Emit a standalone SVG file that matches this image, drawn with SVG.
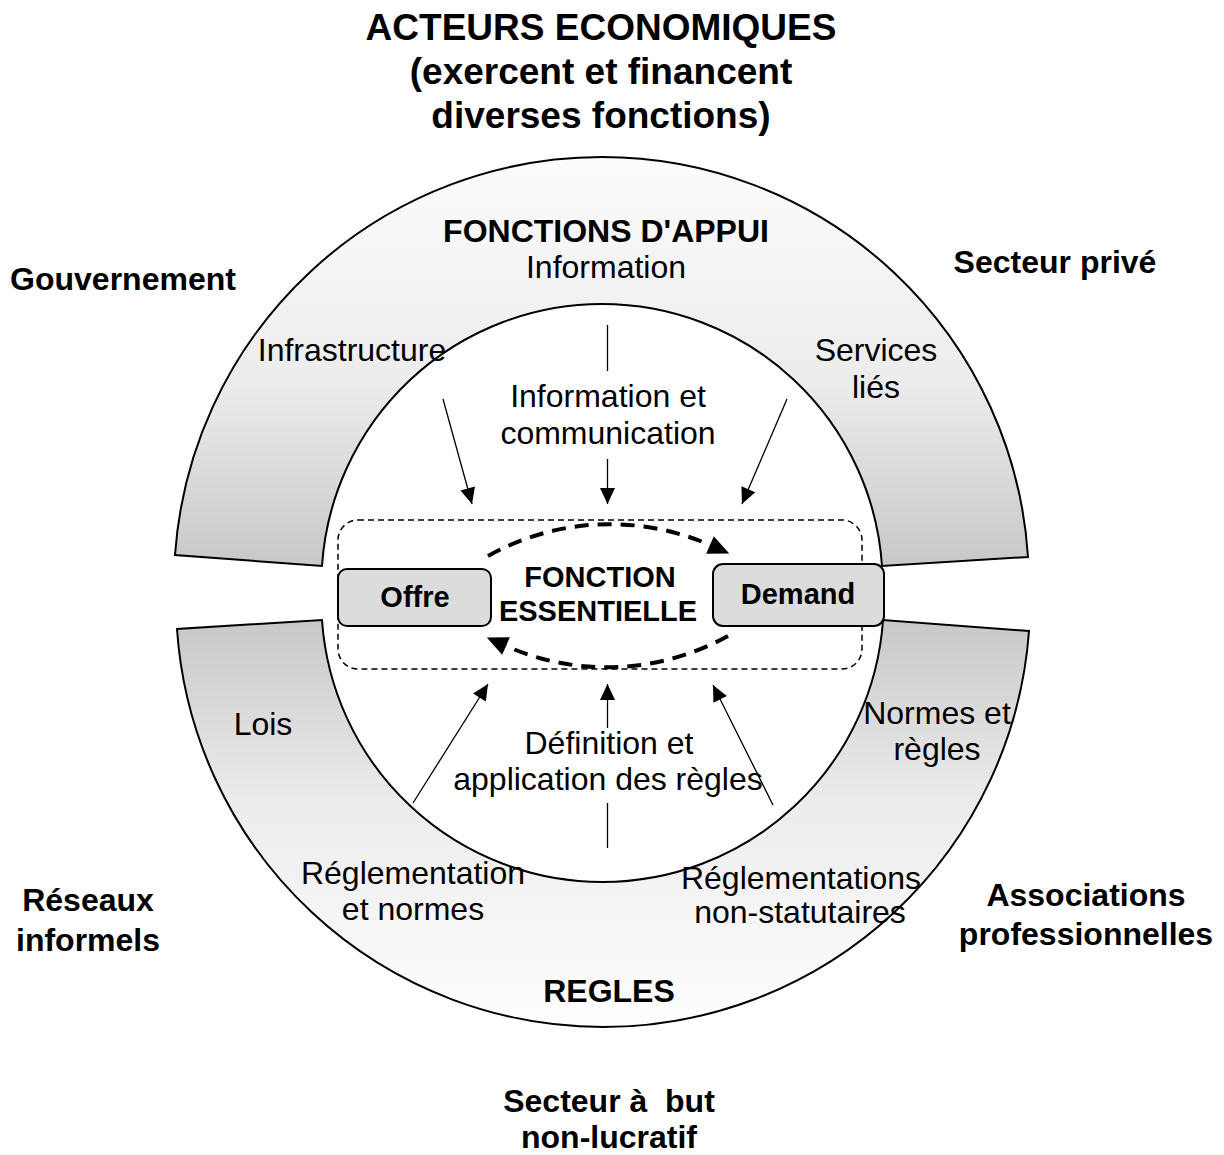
<svg xmlns="http://www.w3.org/2000/svg" width="1224" height="1155" viewBox="0 0 1224 1155">
<style>
text{font-family:"Liberation Sans",Arial,sans-serif;fill:#000;text-anchor:middle}
.b{font-weight:bold;font-size:32px}
.r{font-size:32px}
.t{font-weight:bold;font-size:37px}
.box{font-weight:bold;font-size:29px}
.arch{stroke:#000;stroke-width:2}
.bx{fill:#dcdcdc;stroke:#000;stroke-width:2}
.ln{stroke:#000;stroke-width:1.3;fill:none}
.dl{stroke:#000;stroke-width:4;fill:none;stroke-dasharray:14 9}
</style>
<defs>
<linearGradient id="gTop" x1="0" y1="0" x2="0" y2="1">
<stop offset="0" stop-color="#fcfcfc"/>
<stop offset="0.55" stop-color="#ececec"/>
<stop offset="1" stop-color="#c8c8c8"/>
</linearGradient>
<linearGradient id="gBot" x1="0" y1="0" x2="0" y2="1">
<stop offset="0" stop-color="#c8c8c8"/>
<stop offset="0.45" stop-color="#ececec"/>
<stop offset="1" stop-color="#fefefe"/>
</linearGradient>
<marker id="ah" markerUnits="userSpaceOnUse" markerWidth="16" markerHeight="15" refX="16" refY="7.5" orient="auto" overflow="visible">
<path d="M0,0 L16,7.5 L0,15 Z" fill="#000"/>
</marker>
<marker id="ahT" markerUnits="userSpaceOnUse" markerWidth="21" markerHeight="19" refX="0" refY="9.5" orient="auto" overflow="visible">
<path d="M0,0 L21,9.5 L0,19 Z" fill="#000"/>
</marker>
</defs>
<rect width="1224" height="1155" fill="#fff"/>

<g id="titre">
<text class="t" x="601" y="40">ACTEURS ECONOMIQUES</text>
<text class="t" x="601" y="84">(exercent et financent</text>
<text class="t" x="601" y="128">diverses fonctions)</text>
</g>

<g id="fonctions-appui">
<path class="arch" fill="url(#gTop)" d="M175,555 A428,428 0 0 1 602,157 A427,427 0 0 1 1028,557 L882,566 A280.6,280.6 0 0 0 602,304 A280.6,280.6 0 0 0 322,566 Z"/>
<text class="b" x="606" y="242">FONCTIONS D'APPUI</text>
<text class="r" x="606" y="278">Information</text>
<text class="r" x="352" y="361">Infrastructure</text>
<text class="r" x="876" y="361">Services</text>
<text class="r" x="876" y="398">liés</text>
</g>

<g id="regles">
<path class="arch" fill="url(#gBot)" d="M177,629 A427,427 0 0 0 603,1027 A427,427 0 0 0 1029,631 L883,620 A281.2,281.2 0 0 1 602.5,882 A281.2,281.2 0 0 1 322,620 Z"/>
<text class="r" x="263" y="735">Lois</text>
<text class="r" x="937" y="724">Normes et</text>
<text class="r" x="937" y="760">règles</text>
<text class="r" x="413" y="884">Réglementation</text>
<text class="r" x="413" y="920">et normes</text>
<text class="r" x="801" y="889">Réglementations</text>
<text class="r" x="800" y="923">non-statutaires</text>
<text class="b" x="609" y="1002">REGLES</text>
</g>

<g id="fonction-essentielle">
<rect x="338" y="520" width="524" height="149" rx="20" fill="none" stroke="#000" stroke-width="1.5" stroke-dasharray="6 4"/>
<text class="box" x="600" y="587">FONCTION</text>
<text class="box" x="598" y="621">ESSENTIELLE</text>
</g>

<g id="offre">
<rect class="bx" x="338" y="569" width="153" height="57" rx="9"/>
<text class="box" x="415" y="607">Offre</text>
</g>

<g id="demand">
<rect class="bx" x="713" y="564" width="171" height="62" rx="10"/>
<text class="box" x="798" y="604">Demand</text>
</g>

<g id="info-comm">
<text class="r" x="608" y="407">Information et</text>
<text class="r" x="608" y="444">communication</text>
</g>

<g id="def-regles">
<text class="r" x="609" y="754">Définition et</text>
<text class="r" x="608" y="790">application des règles</text>
</g>

<g id="connecteurs">
<line class="ln" x1="443" y1="399" x2="472" y2="504" marker-end="url(#ah)"/>
<line class="ln" x1="607.5" y1="325" x2="607.5" y2="371"/>
<line class="ln" x1="607.5" y1="459" x2="607.5" y2="504" marker-end="url(#ah)"/>
<line class="ln" x1="787" y1="399" x2="742" y2="504" marker-end="url(#ah)"/>
<line class="ln" x1="413" y1="803" x2="488" y2="684" marker-end="url(#ah)"/>
<line class="ln" x1="607.5" y1="728" x2="607.5" y2="684" marker-end="url(#ah)"/>
<line class="ln" x1="607.5" y1="803" x2="607.5" y2="848"/>
<line class="ln" x1="773" y1="805" x2="713" y2="685" marker-end="url(#ah)"/>
<path class="dl" d="M488,556 A250,250 0 0 1 710,545" marker-end="url(#ahT)"/>
<path class="dl" d="M728,636 A250,250 0 0 1 506,646" marker-end="url(#ahT)"/>
</g>

<g id="gouvernement"><text class="b" x="123" y="290">Gouvernement</text></g>
<g id="secteur-prive"><text class="b" x="1055" y="273">Secteur privé</text></g>
<g id="reseaux-informels">
<text class="b" x="88" y="911">Réseaux</text>
<text class="b" x="88" y="951">informels</text>
</g>
<g id="associations">
<text class="b" x="1086" y="906">Associations</text>
<text class="b" x="1086" y="945">professionnelles</text>
</g>
<g id="secteur-non-lucratif">
<text class="b" x="609" y="1112" xml:space="preserve">Secteur à  but</text>
<text class="b" x="609" y="1148">non-lucratif</text>
</g>
</svg>
